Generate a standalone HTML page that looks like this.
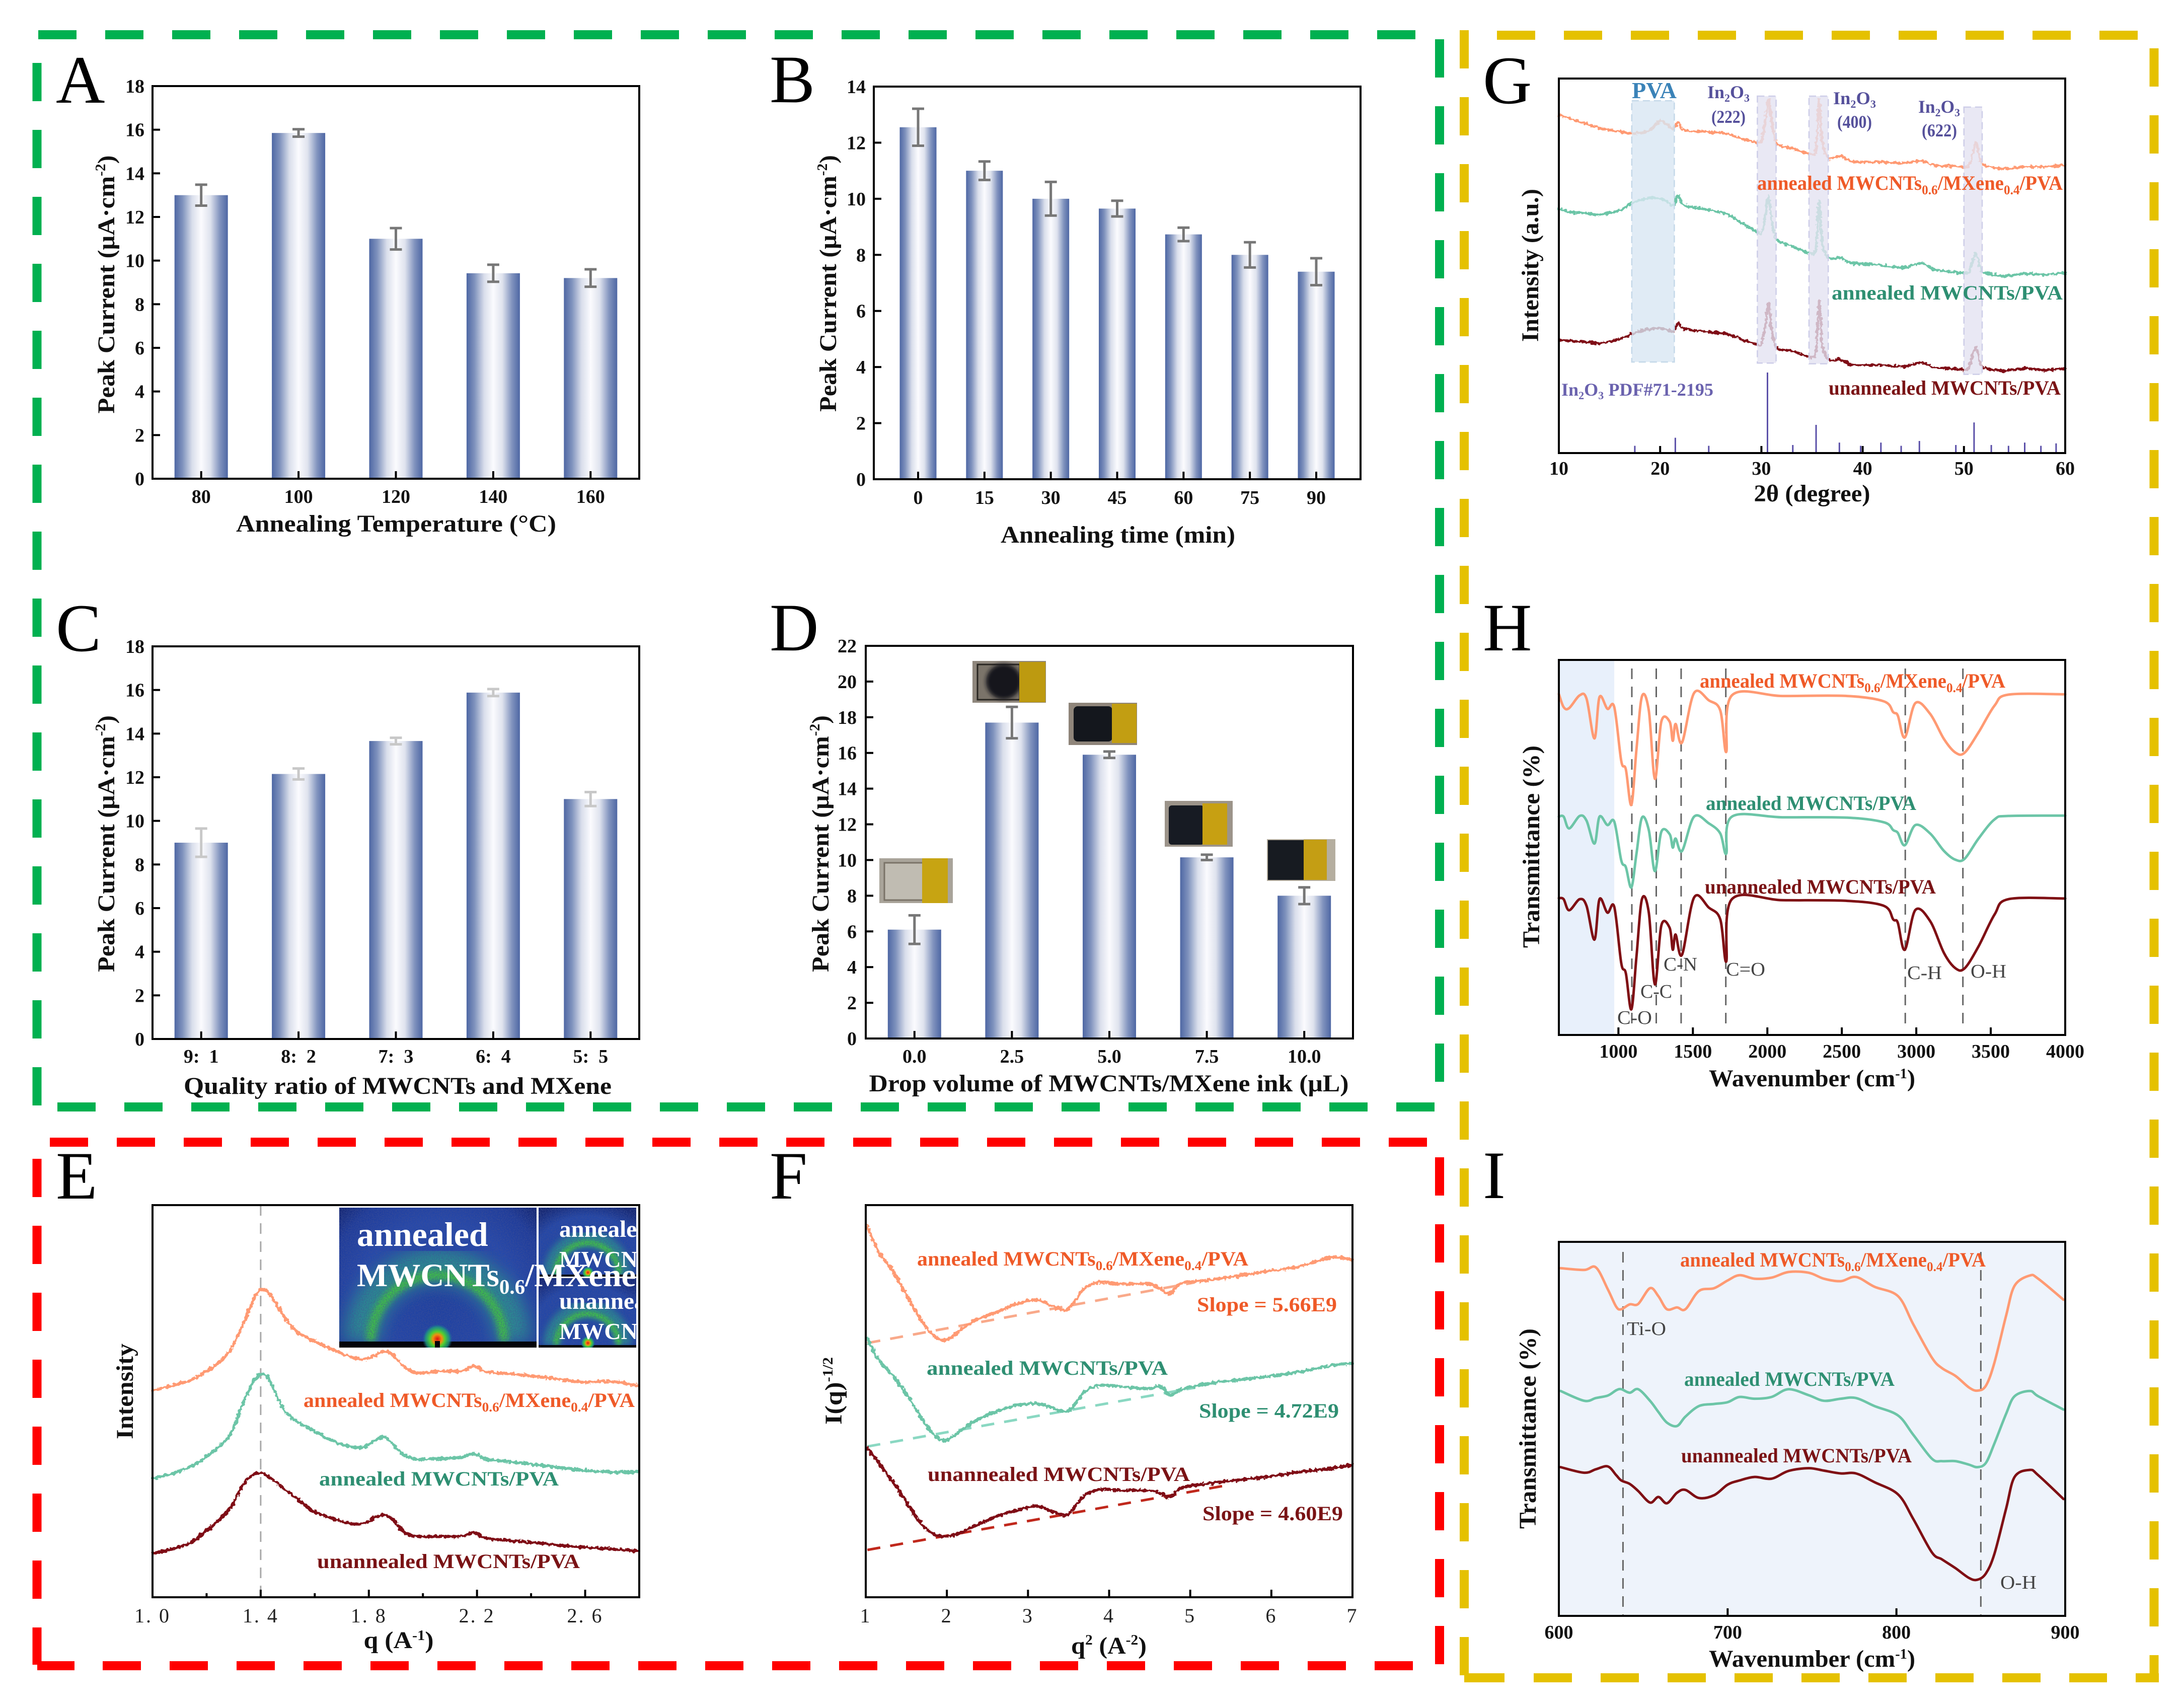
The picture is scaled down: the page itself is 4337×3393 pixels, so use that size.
<!DOCTYPE html>
<html lang="en"><head><meta charset="utf-8"><title>MWCNTs/MXene multi-panel characterization figure</title>
<style>
html,body{margin:0;padding:0;background:#fff;width:4337px;height:3393px;overflow:hidden}
svg{display:block}
text{font-family:"Liberation Serif",serif}
.letter{font-size:135px;fill:#000}
.title{font-size:48px;font-weight:bold;fill:#111}
.tick{font-size:38px;font-weight:bold;fill:#111}
.tickreg{font-size:40px;fill:#222;letter-spacing:3px}
.lab{font-size:40px;font-weight:bold}
.or{fill:#ef5a28}.gr{fill:#2e8f72}.dr{fill:#7a1315}
.ann{font-size:38px;fill:#444}
.pur{font-size:36px;font-weight:bold;fill:#55509b}
.ins{font-weight:bold;fill:#fff}
</style></head><body>
<svg id="fig" xmlns="http://www.w3.org/2000/svg" width="4337" height="3393" viewBox="0 0 4337 3393">
<defs>
<linearGradient id="barGrad" x1="0" x2="1" y1="0" y2="0"><stop offset="0" stop-color="#4e67a4"/><stop offset=".15" stop-color="#7f92bd"/><stop offset=".33" stop-color="#d9deeb"/><stop offset=".5" stop-color="#fbfbfe"/><stop offset=".67" stop-color="#dfe3ee"/><stop offset=".85" stop-color="#8193be"/><stop offset="1" stop-color="#4e67a4"/></linearGradient>
<radialGradient id="insBg" gradientUnits="userSpaceOnUse" cx="869" cy="2590" r="270"><stop offset="0" stop-color="#1c3fa0"/><stop offset=".6" stop-color="#2448ac"/><stop offset=".85" stop-color="#1c3a9a"/><stop offset="1" stop-color="#11236f"/></radialGradient>
<radialGradient id="insBg2" cx=".5" cy=".65" r=".75"><stop offset="0" stop-color="#1f44a6"/><stop offset=".7" stop-color="#2146a8"/><stop offset="1" stop-color="#11236f"/></radialGradient>
<radialGradient id="spot"><stop offset="0" stop-color="#e01010"/><stop offset=".3" stop-color="#f09010"/><stop offset=".5" stop-color="#50d030"/><stop offset=".8" stop-color="#1f9a80" stop-opacity=".8"/><stop offset="1" stop-color="#1f60a0" stop-opacity="0"/></radialGradient>
<filter id="b16" x="-20%" y="-20%" width="140%" height="140%"><feGaussianBlur stdDeviation="16"/></filter>
<filter id="b6" x="-20%" y="-20%" width="140%" height="140%"><feGaussianBlur stdDeviation="6"/></filter>
<filter id="b4" x="-20%" y="-20%" width="140%" height="140%"><feGaussianBlur stdDeviation="4"/></filter>
<filter id="speck" x="0" y="0" width="100%" height="100%"><feTurbulence type="fractalNoise" baseFrequency=".55" numOctaves="2" seed="4"/><feColorMatrix type="matrix" values="0 0 0 0 .05  0 0 0 0 .08  0 0 0 0 .3  1.6 0 0 0 -.55"/></filter>
<filter id="rough" x="-3%" y="-15%" width="106%" height="130%"><feTurbulence type="fractalNoise" baseFrequency=".16" numOctaves="2" seed="7" result="n"/><feDisplacementMap in="SourceGraphic" in2="n" scale="9" xChannelSelector="G" yChannelSelector="R"/></filter>
<clipPath id="insClip"><rect x="660" y="2390" width="610" height="295"/></clipPath>
<clipPath id="insMain"><rect x="674" y="2399" width="392" height="278"/></clipPath>
<clipPath id="insTop"><rect x="1070" y="2399" width="194" height="138"/></clipPath>
<clipPath id="insBot"><rect x="1070" y="2539" width="194" height="138"/></clipPath>
</defs>
<rect width="4337" height="3393" fill="#fff"/>

<g fill="none" stroke="#00b050" stroke-width="18" stroke-dasharray="76 57">
<line x1="76" y1="69" x2="2813" y2="69"/>
<line x1="73.5" y1="125" x2="73.5" y2="2199"/>
<line x1="114" y1="2199" x2="2851" y2="2199"/>
<line x1="2860" y1="78" x2="2860" y2="2155"/>
</g>
<g fill="none" stroke="#ff0000" stroke-width="18" stroke-dasharray="76 57">
<line x1="99" y1="2269" x2="2835" y2="2269"/>
<line x1="73.5" y1="2302" x2="73.5" y2="3307"/>
<line x1="204" y1="3309" x2="2807" y2="3309"/>
<line x1="74" y1="3309" x2="148" y2="3309" stroke-dasharray="none"/>
<line x1="2860" y1="2299" x2="2860" y2="3307"/>
</g>
<g fill="none" stroke="#e5c100" stroke-width="18" stroke-dasharray="76 57">
<line x1="2974" y1="70" x2="4247" y2="70"/>
<line x1="2909" y1="60" x2="2909" y2="3332"/>
<line x1="4279.500" y1="96" x2="4279.500" y2="3342"/>
<line x1="3047" y1="3333" x2="4186" y2="3333"/>
<line x1="2909" y1="3333" x2="2989" y2="3333" stroke-dasharray="none"/>
<line x1="4243" y1="3333" x2="4289" y2="3333" stroke-dasharray="none"/>
</g>

<!-- Panel A -->
<g id="panelA">
<text class="letter" x="111" y="204">A</text>
<g id="marksA"></g>
<rect x="303" y="171" width="967" height="780" fill="none" stroke="#000" stroke-width="4"/>
<text class="title" text-anchor="middle" x="787" y="1056" textLength="636" lengthAdjust="spacingAndGlyphs">Annealing Temperature (°C)</text>
<text class="title" text-anchor="middle" transform="translate(227 565) rotate(-90)" textLength="513" lengthAdjust="spacingAndGlyphs">Peak Current (μA·cm<tspan font-size="28" dy="-18">-2</tspan><tspan dy="18">)</tspan></text>
</g>

<!-- Panel B -->
<g id="panelB">
<text class="letter" x="1529" y="203">B</text>
<g id="marksB"></g>
<rect x="1736" y="172" width="967" height="780" fill="none" stroke="#000" stroke-width="4"/>
<text class="title" text-anchor="middle" x="2221" y="1078" textLength="466" lengthAdjust="spacingAndGlyphs">Annealing time (min)</text>
<text class="title" text-anchor="middle" transform="translate(1661 563) rotate(-90)" textLength="510" lengthAdjust="spacingAndGlyphs">Peak Current (μA·cm<tspan font-size="28" dy="-18">-2</tspan><tspan dy="18">)</tspan></text>
</g>

<!-- Panel C -->
<g id="panelC">
<text class="letter" x="111" y="1293">C</text>
<g id="marksC"></g>
<rect x="303" y="1284" width="967" height="780" fill="none" stroke="#000" stroke-width="4"/>
<text class="title" text-anchor="middle" x="790" y="2173" textLength="850" lengthAdjust="spacingAndGlyphs">Quality ratio of MWCNTs and MXene</text>
<text class="title" text-anchor="middle" transform="translate(227 1676) rotate(-90)" textLength="510" lengthAdjust="spacingAndGlyphs">Peak Current (μA·cm<tspan font-size="28" dy="-18">-2</tspan><tspan dy="18">)</tspan></text>
</g>

<!-- Panel D -->
<g id="panelD">
<text class="letter" x="1529" y="1292">D</text>
<g id="marksD"></g>
<rect x="1720" y="1283" width="968" height="780" fill="none" stroke="#000" stroke-width="4"/>
<g><rect x="1747" y="1705" width="146" height="89" fill="#a9a49a"/><rect x="1757" y="1714" width="78" height="74" fill="#c0bcb2" stroke="#7a7368" stroke-width="3"/><rect x="1832" y="1705" width="51" height="89" fill="#c7a412"/></g>
<g><rect x="1932" y="1313" width="146" height="83" fill="#8f877d"/><rect x="1942" y="1320" width="84" height="70" fill="#7b746a" stroke="#2a2723" stroke-width="3"/><circle cx="1994" cy="1354" r="35" fill="#14161a" filter="url(#b4)"/><rect x="2025" y="1315" width="52" height="80" fill="#bd9a10"/></g>
<g><rect x="2123" y="1396" width="136" height="84" fill="#8f857a"/><rect x="2133" y="1403" width="77" height="70" rx="8" fill="#14171d"/><rect x="2209" y="1398" width="49" height="78" fill="#c29e12"/></g>
<g><rect x="2314" y="1591" width="135" height="91" fill="#9c948a"/><rect x="2322" y="1600" width="70" height="78" rx="6" fill="#171b23"/><rect x="2389" y="1596" width="49" height="82" fill="#c7a012"/></g>
<g><rect x="2517" y="1667" width="136" height="83" fill="#b5ae9f"/><rect x="2519" y="1669" width="71" height="79" fill="#171b21"/><rect x="2590" y="1668" width="46" height="80" fill="#c49e14"/></g>
<text class="title" text-anchor="middle" x="2203" y="2168" textLength="953" lengthAdjust="spacingAndGlyphs">Drop volume of MWCNTs/MXene ink (μL)</text>
<text class="title" text-anchor="middle" transform="translate(1646 1676) rotate(-90)" textLength="510" lengthAdjust="spacingAndGlyphs">Peak Current (μA·cm<tspan font-size="28" dy="-18">-2</tspan><tspan dy="18">)</tspan></text>
</g>

<!-- Panel E -->
<g id="panelE">
<text class="letter" x="111" y="2381">E</text>
<g id="marksE"></g>
<g clip-path="url(#insClip)">
 <g clip-path="url(#insMain)">
  <rect x="674" y="2399" width="392" height="278" fill="url(#insBg)"/>
  <path d="M719 2665A150 150 0 0 1 1019 2665" fill="none" stroke="#2ba888" stroke-width="70" opacity=".75" filter="url(#b16)"/>
  <path d="M737 2665A132 132 0 0 1 1001 2665" fill="none" stroke="#44dc2a" stroke-width="18" opacity=".85" filter="url(#b6)"/>
  <rect x="674" y="2399" width="392" height="278" filter="url(#speck)"/>
  <rect x="674" y="2665" width="392" height="12" fill="#04040a"/>
  <circle cx="869" cy="2660" r="30" fill="url(#spot)"/>
  <rect x="864" y="2664" width="10" height="13" fill="#04040a"/>
 </g>
 <g clip-path="url(#insTop)">
  <rect x="1070" y="2399" width="194" height="138" fill="url(#insBg2)"/>
  <path d="M1097 2532A70 70 0 0 1 1237 2532" fill="none" stroke="#2ba888" stroke-width="34" opacity=".7" filter="url(#b6)"/>
  <path d="M1104 2532A63 63 0 0 1 1230 2532" fill="none" stroke="#44dc2a" stroke-width="10" opacity=".9" filter="url(#b4)"/>
  <rect x="1070" y="2399" width="194" height="138" filter="url(#speck)"/>
  <rect x="1070" y="2532" width="194" height="5" fill="#04040a"/>
  <circle cx="1168" cy="2528" r="12" fill="url(#spot)"/>
 </g>
 <g clip-path="url(#insBot)">
  <rect x="1070" y="2539" width="194" height="138" fill="url(#insBg2)"/>
  <path d="M1097 2672A70 70 0 0 1 1237 2672" fill="none" stroke="#2ba888" stroke-width="34" opacity=".7" filter="url(#b6)"/>
  <path d="M1105 2672A62 62 0 0 1 1229 2672" fill="none" stroke="#44dc2a" stroke-width="10" opacity=".9" filter="url(#b4)"/>
  <rect x="1070" y="2539" width="194" height="138" filter="url(#speck)"/>
  <rect x="1070" y="2672" width="194" height="5" fill="#04040a"/>
  <circle cx="1168" cy="2668" r="14" fill="url(#spot)"/>
 </g>
 <rect x="1070" y="2536" width="194" height="3" fill="#fff"/>
 <text class="ins" font-size="68" x="709" y="2475">annealed</text>
 <text class="ins" font-size="65" x="709" y="2555">MWCNTs<tspan font-size="41" dy="15">0.6</tspan><tspan dy="-15">/MXene</tspan></text>
 <text class="ins" font-size="47" x="1111" y="2457">annealed</text>
 <text class="ins" font-size="46" x="1111" y="2517">MWCNTs</text>
 <text class="ins" font-size="47" x="1111" y="2600">unannealed</text>
 <text class="ins" font-size="46" x="1111" y="2660">MWCNTs</text>
</g>
<rect x="303" y="2394" width="967" height="779" fill="none" stroke="#000" stroke-width="4"/>
<text class="lab or" x="603" y="2795" textLength="658" lengthAdjust="spacingAndGlyphs">annealed MWCNTs<tspan font-size="26" dy="9">0.6</tspan><tspan dy="-9">/MXene</tspan><tspan font-size="26" dy="9">0.4</tspan><tspan dy="-9">/PVA</tspan></text>
<text class="lab gr" x="634" y="2951" textLength="476" lengthAdjust="spacingAndGlyphs">annealed MWCNTs/PVA</text>
<text class="lab dr" x="630" y="3115" textLength="522" lengthAdjust="spacingAndGlyphs">unannealed MWCNTs/PVA</text>
<text class="title" text-anchor="middle" transform="translate(264 2764) rotate(-90)" textLength="190" lengthAdjust="spacingAndGlyphs">Intensity</text>
<text class="title" text-anchor="middle" x="792" y="3274" textLength="139" lengthAdjust="spacingAndGlyphs">q (A<tspan font-size="28" dy="-16">-1</tspan><tspan dy="16">)</tspan></text>
</g>

<!-- Panel F -->
<g id="panelF">
<text class="letter" x="1529" y="2381">F</text>
<g id="marksF"></g>
<rect x="1720" y="2394" width="967" height="779" fill="none" stroke="#000" stroke-width="4"/>
<text class="lab or" x="1822" y="2514" textLength="658" lengthAdjust="spacingAndGlyphs">annealed MWCNTs<tspan font-size="26" dy="9">0.6</tspan><tspan dy="-9">/MXene</tspan><tspan font-size="26" dy="9">0.4</tspan><tspan dy="-9">/PVA</tspan></text>
<text class="lab gr" x="1841" y="2731" textLength="479" lengthAdjust="spacingAndGlyphs">annealed MWCNTs/PVA</text>
<text class="lab dr" x="1843" y="2942" textLength="521" lengthAdjust="spacingAndGlyphs">unannealed MWCNTs/PVA</text>
<text class="lab or" x="2378" y="2605" textLength="278" lengthAdjust="spacingAndGlyphs">Slope = 5.66E9</text>
<text class="lab gr" x="2382" y="2816" textLength="278" lengthAdjust="spacingAndGlyphs">Slope = 4.72E9</text>
<text class="lab dr" x="2389" y="3020" textLength="279" lengthAdjust="spacingAndGlyphs">Slope = 4.60E9</text>
<text class="title" text-anchor="middle" transform="translate(1672 2763) rotate(-90)" textLength="134" lengthAdjust="spacingAndGlyphs">I(q)<tspan font-size="28" dy="-18">-1/2</tspan></text>
<text class="title" text-anchor="middle" x="2203" y="3285" textLength="150" lengthAdjust="spacingAndGlyphs">q<tspan font-size="28" dy="-18">2</tspan><tspan dy="18"> (A</tspan><tspan font-size="28" dy="-18">-2</tspan><tspan dy="18">)</tspan></text>
</g>

<!-- Panel G -->
<g id="panelG">
<text class="letter" x="2946" y="205">G</text>
<g id="marksG"></g>
<rect x="3097" y="156" width="1006" height="744" fill="none" stroke="#000" stroke-width="4"/>
<text font-size="46" font-weight="bold" fill="#3b83b8" x="3242" y="195" textLength="89" lengthAdjust="spacingAndGlyphs">PVA</text>
<text class="pur" x="3392" y="195" textLength="84" lengthAdjust="spacingAndGlyphs">In<tspan font-size="22" dy="7">2</tspan><tspan dy="-7">O</tspan><tspan font-size="22" dy="7">3</tspan></text>
<text class="pur" x="3400" y="244" textLength="68" lengthAdjust="spacingAndGlyphs">(222)</text>
<text class="pur" x="3642" y="207" textLength="85" lengthAdjust="spacingAndGlyphs">In<tspan font-size="22" dy="7">2</tspan><tspan dy="-7">O</tspan><tspan font-size="22" dy="7">3</tspan></text>
<text class="pur" x="3650" y="254" textLength="69" lengthAdjust="spacingAndGlyphs">(400)</text>
<text class="pur" x="3811" y="224" textLength="83" lengthAdjust="spacingAndGlyphs">In<tspan font-size="22" dy="7">2</tspan><tspan dy="-7">O</tspan><tspan font-size="22" dy="7">3</tspan></text>
<text class="pur" x="3818" y="271" textLength="70" lengthAdjust="spacingAndGlyphs">(622)</text>
<text class="lab or" x="3491" y="377" textLength="607" lengthAdjust="spacingAndGlyphs">annealed MWCNTs<tspan font-size="26" dy="9">0.6</tspan><tspan dy="-9">/MXene</tspan><tspan font-size="26" dy="9">0.4</tspan><tspan dy="-9">/PVA</tspan></text>
<text class="lab gr" x="3639" y="595" textLength="459" lengthAdjust="spacingAndGlyphs">annealed MWCNTs/PVA</text>
<text class="lab dr" x="3633" y="784" textLength="461" lengthAdjust="spacingAndGlyphs">unannealed MWCNTs/PVA</text>
<text class="pur" style="fill:#6a62ae" x="3102" y="786" textLength="302" lengthAdjust="spacingAndGlyphs">In<tspan font-size="22" dy="7">2</tspan><tspan dy="-7">O</tspan><tspan font-size="22" dy="7">3</tspan><tspan dy="-7"> PDF#71-2195</tspan></text>
<text class="title" text-anchor="middle" transform="translate(3056 527) rotate(-90)" textLength="304" lengthAdjust="spacingAndGlyphs">Intensity (a.u.)</text>
<text class="title" text-anchor="middle" x="3600" y="996" textLength="231" lengthAdjust="spacingAndGlyphs">2θ (degree)</text>
</g>

<!-- Panel H -->
<g id="panelH">
<text class="letter" x="2946" y="1292">H</text>
<g id="marksH"></g>
<rect x="3097" y="1311" width="1006" height="745" fill="none" stroke="#000" stroke-width="4"/>
<text class="lab or" x="3377" y="1366" textLength="607" lengthAdjust="spacingAndGlyphs">annealed MWCNTs<tspan font-size="26" dy="9">0.6</tspan><tspan dy="-9">/MXene</tspan><tspan font-size="26" dy="9">0.4</tspan><tspan dy="-9">/PVA</tspan></text>
<text class="lab gr" x="3389" y="1609" textLength="418" lengthAdjust="spacingAndGlyphs">annealed MWCNTs/PVA</text>
<text class="lab dr" x="3387" y="1775" textLength="459" lengthAdjust="spacingAndGlyphs">unannealed MWCNTs/PVA</text>
<text class="ann" x="3213" y="2034" textLength="69" lengthAdjust="spacingAndGlyphs">C-O</text>
<text class="ann" x="3259" y="1982" textLength="63" lengthAdjust="spacingAndGlyphs">C-C</text>
<text class="ann" x="3305" y="1928" textLength="67" lengthAdjust="spacingAndGlyphs">C-N</text>
<text class="ann" x="3429" y="1938" textLength="78" lengthAdjust="spacingAndGlyphs">C=O</text>
<text class="ann" x="3789" y="1945" textLength="69" lengthAdjust="spacingAndGlyphs">C-H</text>
<text class="ann" x="3915" y="1942" textLength="71" lengthAdjust="spacingAndGlyphs">O-H</text>
<text class="title" text-anchor="middle" transform="translate(3058 1682) rotate(-90)" textLength="402" lengthAdjust="spacingAndGlyphs">Transmittance (%)</text>
<text class="title" text-anchor="middle" x="3600" y="2158" textLength="410" lengthAdjust="spacingAndGlyphs">Wavenumber (cm<tspan font-size="28" dy="-16">-1</tspan><tspan dy="16">)</tspan></text>
</g>

<!-- Panel I -->
<g id="panelI">
<text class="letter" x="2946" y="2380">I</text>
<rect x="3097" y="2467" width="1006" height="743" fill="#eef3fb"/>
<g id="marksI"></g>
<rect x="3097" y="2467" width="1006" height="743" fill="none" stroke="#000" stroke-width="4"/>
<text class="lab or" x="3338" y="2516" textLength="607" lengthAdjust="spacingAndGlyphs">annealed MWCNTs<tspan font-size="26" dy="9">0.6</tspan><tspan dy="-9">/MXene</tspan><tspan font-size="26" dy="9">0.4</tspan><tspan dy="-9">/PVA</tspan></text>
<text class="lab gr" x="3346" y="2753" textLength="418" lengthAdjust="spacingAndGlyphs">annealed MWCNTs/PVA</text>
<text class="lab dr" x="3340" y="2905" textLength="458" lengthAdjust="spacingAndGlyphs">unannealed MWCNTs/PVA</text>
<text class="ann" x="3232" y="2652" textLength="78" lengthAdjust="spacingAndGlyphs">Ti-O</text>
<text class="ann" x="3974" y="3156" textLength="72" lengthAdjust="spacingAndGlyphs">O-H</text>
<text class="title" text-anchor="middle" transform="translate(3051 2838) rotate(-90)" textLength="398" lengthAdjust="spacingAndGlyphs">Transmittance (%)</text>
<text class="title" text-anchor="middle" x="3600" y="3311" textLength="410" lengthAdjust="spacingAndGlyphs">Wavenumber (cm<tspan font-size="28" dy="-16">-1</tspan><tspan dy="16">)</tspan></text>
</g>
</svg>
<script>
// ---------- bar-chart data ----------
const catsA = ['80','100','120','140','160'];
const valsA = [13.0,15.85,11.0,9.42,9.2];
const errsA = [0.48,0.17,0.49,0.39,0.4];
const yTicksA = [0,2,4,6,8,10,12,14,16,18];

const catsB = ['0','15','30','45','60','75','90'];
const valsB = [12.55,11.0,10.0,9.65,8.73,8.0,7.4];
const errsB = [0.66,0.33,0.6,0.28,0.24,0.45,0.48];
const yTicksB = [0,2,4,6,8,10,12,14];

const catsC = ['9:\u00a0\u00a01','8:\u00a0\u00a02','7:\u00a0\u00a03','6:\u00a0\u00a04','5:\u00a0\u00a05'];
const valsC = [9.0,12.15,13.66,15.88,11.0];
const errsC = [0.65,0.25,0.15,0.16,0.32];
const yTicksC = [0,2,4,6,8,10,12,14,16,18];

const catsD = ['0.0','2.5','5.0','7.5','10.0'];
const valsD = [6.1,17.7,15.9,10.15,8.0];
const errsD = [0.8,0.88,0.18,0.15,0.47];
const yTicksD = [0,2,4,6,8,10,12,14,16,18,20,22];

// ---------- panel E: intensity vs q (arbitrary units) ----------
const qE = [1.00,1.07,1.14,1.19,1.24,1.29,1.33,1.365,1.39,1.417,1.443,1.486,1.53,1.59,1.66,1.727,1.78,1.82,1.856,1.89,1.933,1.985,2.07,2.14,2.19,2.235,2.33,2.45,2.59,2.70,2.795];
const blendE = [563,576,591,611,636,676,736,796,831,838,816,766,726,701,676,656,648,658,669,659,626,611,616,616,629,614,608,599,586,588,576];
const annealedE = [324,336,356,378,406,446,521,576,603,606,576,511,481,456,428,411,409,426,436,416,386,376,378,381,391,376,369,358,346,341,341];
const unannealedE = [119,131,148,176,206,246,301,331,338,334,321,296,271,236,216,201,201,216,224,211,176,166,166,166,176,161,154,146,136,131,126];
const xTicksE = [1.0,1.4,1.8,2.2,2.6];
const xTickLabelsE = ['1. 0','1. 4','1. 8','2. 2','2. 6'];
const xMinorE = [1.2,1.6,2.0,2.4,2.8];
const refE = [1.4];

// ---------- panel F ----------
const qqF = [1.02,1.16,1.33,1.51,1.68,1.85,1.98,2.11,2.31,2.60,2.88,3.11,3.28,3.45,3.54,3.69,3.89,4.15,4.49,4.63,4.75,4.89,5.18,5.52,5.93,6.33,6.73,6.99];
const blendF = [1011,941,891,821,756,711,701,718,751,776,801,811,796,783,796,841,859,854,854,841,828,856,863,874,888,901,926,921];
const annealedF = [706,646,606,551,491,441,428,444,476,506,524,528,518,506,516,558,578,574,569,576,551,566,581,591,601,614,631,638];
const unannealedF = [408,366,316,256,201,171,166,171,191,219,238,248,236,224,236,276,294,291,291,284,273,298,309,318,328,341,351,361];
const fitXBlend = [1.02,5.05];
const fitBlend = [693,858];
const fitXAnnealed = [1.02,5.05];
const fitAnnealed = [411,571];
const fitXUnannealed = [1.02,5.47];
const fitUnannealed = [129,306];
const xTicksF = [1,2,3,4,5,6,7];

// ---------- panel G: XRD ----------
const thetaG = [10,11,12.5,14,16,17.5,19,20,20.7,21.3,21.8,22.3,24,26.5,28,29.5,30,30.4,30.7,31,31.5,33,35,35.4,35.7,36,36.6,37.8,39,41.5,44,45.8,47,49,50.4,50.8,51.2,51.7,52.5,54,56,58,60];
const blendG = [958,948,935,921,911,905,915,941,931,918,938,915,911,905,891,880,883,943,1003,943,878,863,846,863,1001,883,835,841,825,825,821,828,815,813,811,843,880,823,811,805,811,811,816];
const annealedG = [693,683,680,675,688,711,723,721,713,701,731,703,693,678,653,628,623,673,728,663,605,586,565,583,711,593,553,553,538,533,525,538,520,513,510,538,566,518,508,501,508,505,511];
const unannealedG = [321,318,315,311,323,341,351,353,350,345,368,353,345,338,323,308,308,363,423,353,298,290,271,293,433,308,265,265,250,250,245,256,243,239,238,273,298,248,238,233,240,235,240];
const stickTheta = [17.5,21.5,24.8,30.6,33.1,35.4,37.7,39.8,41.8,43.8,45.6,49.2,51.0,52.7,54.4,56.0,57.6,59.1];
const stickIntensity = [9,19,9,100,10,35,13,9,13,9,15,10,38,10,9,13,9,12];
const xTicksG = [10,20,30,40,50,60];
const bandStartG = [17.2,29.6,34.7,50.0];
const bandEndG = [21.4,31.45,36.6,51.8];
const bandTopG = [998,1011,1011,980];
const bandBottomG = [258,255,253,223];

// ---------- panel H: FTIR ----------
const wnH = [600,632,669,740,786,839,873,926,972,1019,1050,1087,1121,1158,1204,1245,1288,1344,1365,1384,1427,1508,1607,1684,1724,1762,2102,2536,2783,2845,2876,2923,2994,3093,3186,3263,3325,3418,3526,3619,4000];
const blendH = [1012,973,970,1008,998,880,1003,968,973,813,788,683,848,1005,963,760,930,930,873,923,868,1015,993,963,840,1008,1006,1006,990,958,948,883,985,953,878,838,838,898,978,1010,1011];
const annealedH = [648,648,613,650,636,568,648,623,633,518,498,438,538,645,608,486,603,596,556,583,546,648,628,598,538,648,646,645,631,608,600,563,623,598,546,520,523,583,640,650,651];
const unannealedH = [406,403,370,403,383,283,403,363,380,213,183,76,233,403,363,150,325,318,253,298,238,408,378,343,218,403,400,398,383,343,333,253,371,338,243,198,198,263,358,403,405];
const refH = [1090,1254,1421,1721,2926,3313];
const xTicksH = [1000,1500,2000,2500,3000,3500,4000];

// ---------- panel I: FTIR detail ----------
const wnI = [601,615,622,629,634,637,642,647,654,659,664,670,675,683,692,700,707,716,726,736,748,757,767,776,787,801,810,821,827,835,843,848,853,858,865,870,879,884,899];
const blendI = [991,986,993,931,881,874,888,889,934,911,874,879,874,926,934,956,971,961,964,980,978,961,954,966,938,911,831,736,706,684,651,642,656,721,856,941,970,961,901];
const annealedI = [641,613,621,628,643,646,636,646,613,581,551,541,568,598,604,609,624,619,624,646,629,613,619,621,598,571,516,448,441,441,431,424,436,491,576,626,641,626,588];
const unannealedI = [424,408,418,426,401,386,376,356,323,339,321,351,359,336,344,374,386,396,391,413,421,414,406,406,381,346,276,181,161,136,108,103,121,176,306,396,416,401,333];
const refI = [638,850];
const xTicksI = [600,700,800,900];

// ---------- helpers ----------
const NS = 'http://www.w3.org/2000/svg';
const COL_BLEND = '#ff9a73', COL_ANN = '#6cc5a7', COL_UN = '#7f0f14';
function mk(parent, tag, attrs, text) {
  const el = document.createElementNS(NS, tag);
  for (const k in attrs) el.setAttribute(k, attrs[k]);
  if (text !== undefined) el.textContent = text;
  parent.appendChild(el);
  return el;
}
function linear(d0, d1, r0, r1) {
  return v => r0 + (v - d0) * (r1 - r0) / (d1 - d0);
}
function smooth(xs, ys, sx, sy, k) {
  const p = xs.map((x, i) => [sx(x), sy(ys[i])]);
  let d = 'M' + p[0][0].toFixed(1) + ' ' + p[0][1].toFixed(1);
  for (let i = 0; i < p.length - 1; i++) {
    const a = p[Math.max(i - 1, 0)], b = p[i], c = p[i + 1], e = p[Math.min(i + 2, p.length - 1)];
    d += 'C' + (b[0] + (c[0] - a[0]) * k).toFixed(1) + ' ' + (b[1] + (c[1] - a[1]) * k).toFixed(1) + ' ' +
      (c[0] - (e[0] - b[0]) * k).toFixed(1) + ' ' + (c[1] - (e[1] - b[1]) * k).toFixed(1) + ' ' +
      c[0].toFixed(1) + ' ' + c[1].toFixed(1);
  }
  return d;
}
function drawCurve(g, xs, ys, sx, sy, color, w, k, rough) {
  const el = mk(g, 'path', {d: smooth(xs, ys, sx, sy, k), fill: 'none', stroke: color, 'stroke-width': w, 'stroke-linejoin': 'round', 'stroke-linecap': 'round'});
  if (rough) el.setAttribute('filter', 'url(#rough)');
  
  
  return el;
}
function drawRefs(g, vals, sx, y0, y1, color) {
  vals.forEach(v => {
    const el = mk(g, 'line', {x1: sx(v), x2: sx(v), y1: y0, y2: y1, stroke: color, 'stroke-width': 3, 'stroke-dasharray': '21 15'});
    
    
  });
}
function drawXTicks(g, vals, labels, sx, bottom, labelY, cls, len) {
  vals.forEach((v, i) => {
    const t = mk(g, 'line', {x1: sx(v), x2: sx(v), y1: bottom, y2: bottom - len, stroke: '#000', 'stroke-width': 4});
    
    
    if (labels) {
      const l = mk(g, 'text', {x: sx(v), y: labelY, 'text-anchor': 'middle', class: cls}, labels[i]);
      
      
    }
  });
}
function drawBarPanel(g, cats, vals, errs, yTicks, yMax, L, T, R, B, pad, bw, labelRight, labelY, errColor) {
  const sy = linear(0, yMax, B, T);
  const step = (R - L - 2 * pad) / (cats.length - 1);
  const sx = i => L + pad + i * step;
  cats.forEach((c, i) => {
    const bar = mk(g, 'rect', {x: sx(i) - bw / 2, y: sy(vals[i]), width: bw, height: B - sy(vals[i]), fill: 'url(#barGrad)'});
    
    
    const eg = mk(g, 'path', {
      d: 'M' + (sx(i) - 12) + ' ' + sy(vals[i] + errs[i]) + 'h24M' + sx(i) + ' ' + sy(vals[i] + errs[i]) + 'V' + sy(vals[i] - errs[i]) + 'M' + (sx(i) - 12) + ' ' + sy(vals[i] - errs[i]) + 'h24',
      fill: 'none', stroke: errColor, 'stroke-width': 5});
    
    
  });
  drawXTicks(g, cats.map((c, i) => i), cats, sx, B, labelY, 'tick', 15);
  yTicks.forEach(v => {
    const t = mk(g, 'line', {x1: L, x2: L + 15, y1: sy(v), y2: sy(v), stroke: '#000', 'stroke-width': 4});
    
    
    const l = mk(g, 'text', {x: labelRight, y: sy(v) + 13, 'text-anchor': 'end', class: 'tick'}, String(v));
    
    
  });
}

// ---------- bar panels ----------
drawBarPanel(document.getElementById('marksA'), catsA, valsA, errsA, yTicksA, 18, 303, 171, 1270, 951, 96.7, 106, 287, 999, '#777');
drawBarPanel(document.getElementById('marksB'), catsB, valsB, errsB, yTicksB, 14, 1736, 172, 2703, 952, 88, 73, 1720, 1001, '#777');
drawBarPanel(document.getElementById('marksC'), catsC, valsC, errsC, yTicksC, 18, 303, 1284, 1270, 2064, 96.7, 106, 287, 2111, '#c8c8c8');
drawBarPanel(document.getElementById('marksD'), catsD, valsD, errsD, yTicksD, 22, 1720, 1283, 2688, 2063, 96.8, 106, 1702, 2111, '#777');

// ---------- panel E ----------
(function () {
  const g = document.getElementById('marksE');
  const sx = linear(1, 2.8, 303, 1270), sy = linear(0, 1068, 3173, 2394);
  drawRefs(g, refE, sx, 2394, 3173, '#a8a8a8');
  drawCurve(g, qE, blendE, sx, sy, COL_BLEND, 6, 1 / 6, true);
  drawCurve(g, qE, annealedE, sx, sy, COL_ANN, 6, 1 / 6, true);
  drawCurve(g, qE, unannealedE, sx, sy, COL_UN, 6, 1 / 6, true);
  drawXTicks(g, xTicksE, xTickLabelsE, sx, 3173, 3223, 'tickreg', 15);
  drawXTicks(g, xMinorE, null, sx, 3173, 0, '', 8);
})();

// ---------- panel F ----------
(function () {
  const g = document.getElementById('marksF');
  const sx = linear(1, 7, 1720, 2687), sy = linear(0, 1069, 3173, 2394);
  function fit(xs, ys, color) {
    const el = mk(g, 'line', {x1: sx(xs[0]), x2: sx(xs[1]), y1: sy(ys[0]), y2: sy(ys[1]), stroke: color, 'stroke-width': 5, 'stroke-dasharray': '26 20'});
    
    
  }
  fit(fitXBlend, fitBlend, '#f9a98a');
  fit(fitXAnnealed, fitAnnealed, '#8ad8c2');
  fit(fitXUnannealed, fitUnannealed, '#c0281c');
  drawCurve(g, qqF, blendF, sx, sy, COL_BLEND, 6, 1 / 6, true);
  drawCurve(g, qqF, annealedF, sx, sy, COL_ANN, 6, 1 / 6, true);
  drawCurve(g, qqF, unannealedF, sx, sy, COL_UN, 6, 1 / 6, true);
  drawXTicks(g, xTicksF, xTicksF.map(String), sx, 3173, 3223, 'tickreg', 15);
})();

// ---------- panel G ----------
(function () {
  const g = document.getElementById('marksG');
  const sx = linear(10, 60, 3097, 4103), sy = linear(0, 1061, 900, 156);
  const sStick = linear(0, 100, 900, 740);
  drawCurve(g, thetaG, blendG, sx, sy, COL_BLEND, 5, 1 / 8, true);
  drawCurve(g, thetaG, annealedG, sx, sy, COL_ANN, 5, 1 / 8, true);
  drawCurve(g, thetaG, unannealedG, sx, sy, COL_UN, 5, 1 / 8, true);
  bandStartG.forEach((s, i) => {
    const blue = i === 0;
    const el = mk(g, 'rect', {x: sx(s), y: sy(bandTopG[i]), width: sx(bandEndG[i]) - sx(s), height: sy(bandBottomG[i]) - sy(bandTopG[i]),
      fill: blue ? '#d8e6f2' : '#e4e2f1', 'fill-opacity': .8, stroke: blue ? '#c4d8e9' : '#cdcde8', 'stroke-width': 2.5, 'stroke-dasharray': '14 8'});
    
    
  });
  stickTheta.forEach((t, i) => {
    const el = mk(g, 'line', {x1: sx(t), x2: sx(t), y1: 900, y2: sStick(stickIntensity[i]), stroke: '#5a4fa8', 'stroke-width': 3});
    
    
  });
  drawXTicks(g, xTicksG, xTicksG.map(String), sx, 900, 943, 'tick', 14);
})();

// ---------- panel H ----------
(function () {
  const g = document.getElementById('marksH');
  const sx = linear(600, 4000, 3097, 4103), sy = linear(0, 1113, 2056, 1311);
  const band = mk(g, 'rect', {x: sx(600), y: 1311, width: sx(972) - sx(600), height: 745, fill: '#e8f0fb'});
  
  
  drawRefs(g, refH, sx, 1328, 2048, '#666');
  drawCurve(g, wnH, blendH, sx, sy, COL_BLEND, 5, 1 / 6);
  drawCurve(g, wnH, annealedH, sx, sy, COL_ANN, 5, 1 / 6);
  drawCurve(g, wnH, unannealedH, sx, sy, COL_UN, 5, 1 / 6);
  drawXTicks(g, xTicksH, xTicksH.map(String), sx, 2056, 2101, 'tick', 15);
})();

// ---------- panel I ----------
(function () {
  const g = document.getElementById('marksI');
  const sx = linear(600, 900, 3097, 4103), sy = linear(0, 1066, 3210, 2467);
  drawRefs(g, refI, sx, 2487, 3208, '#666');
  drawCurve(g, wnI, blendI, sx, sy, COL_BLEND, 5, 1 / 6);
  drawCurve(g, wnI, annealedI, sx, sy, COL_ANN, 5, 1 / 6);
  drawCurve(g, wnI, unannealedI, sx, sy, COL_UN, 5, 1 / 6);
  drawXTicks(g, xTicksI, xTicksI.map(String), sx, 3210, 3255, 'tick', 15);
})();
</script>
</body></html>
